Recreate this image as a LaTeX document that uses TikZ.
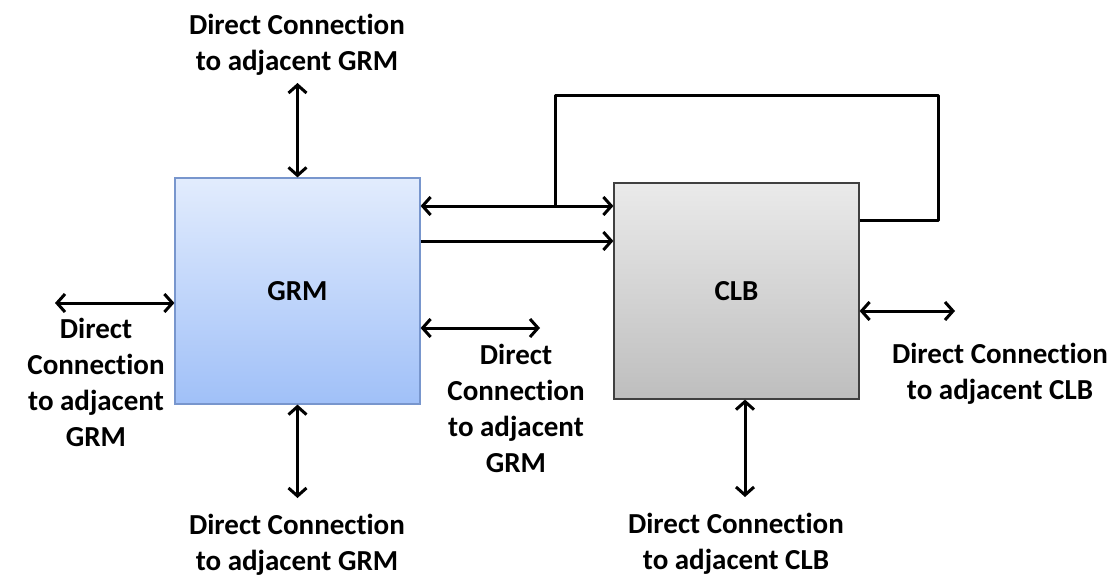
\documentclass[tikz,border=0pt]{standalone}
\usepackage{fontspec}
\setmainfont{Carlito}[Ligatures={NoCommon}]
\usetikzlibrary{arrows.meta}

\definecolor{grmtop}{RGB}{226,236,253}
\definecolor{grmbot}{RGB}{160,192,248}
\definecolor{grmline}{RGB}{120,150,205}
\definecolor{clbtop}{RGB}{234,234,234}
\definecolor{clbbot}{RGB}{190,190,190}
\definecolor{clbline}{RGB}{64,64,64}

\begin{document}
\begin{tikzpicture}[
    x=0.5pt, y=-0.5pt,
    block/.style={draw, minimum width=122.5pt, inner sep=0pt, line width=0.6pt, font=\fontsize{14.5}{18}\selectfont\bfseries},
    grm/.style={block, draw=grmline, top color=grmtop, bottom color=grmbot, minimum height=113pt},
    clb/.style={block, draw=clbline, top color=clbtop, bottom color=clbbot, minimum height=108pt},
    lbl/.style={align=center, font=\fontsize{14.5}{18}\selectfont\bfseries},
    arrow/.style={-{Straight Barb[length=4pt, width=9pt, line width=1.5pt]}, line width=1.5pt},
    dblarrow/.style={{Straight Barb[length=4pt, width=9pt, line width=1.5pt]}-{Straight Barb[length=4pt, width=9pt, line width=1.5pt]}, line width=1.5pt},
    link/.style={line width=1.5pt, line join=round}
  ]
  \useasboundingbox (0,0) rectangle (1115,578);

  % Main blocks
  \node[grm] (grm) at (297.5,291) {GRM};
  \node[clb] (clb) at (736.5,291) {CLB};

  % Free ends of the outer connections
  \coordinate (gtop) at (297.5,83);
  \coordinate (gbot) at (297.5,498);
  \coordinate (gleft) at (55,303);
  \coordinate (gright) at (540,328);
  \coordinate (cright) at (955,311);
  \coordinate (cbot) at (745,497);
  \coordinate (tap) at (555,206);
  \coordinate (loop) at (938,95);

  % Connections of the GRM
  \draw[dblarrow] (gtop) -- (grm.north);
  \draw[dblarrow] (grm.south) -- (gbot);
  \draw[dblarrow] (gleft) -- (gleft -| grm.west);
  \draw[dblarrow] (gright -| grm.east) -- (gright);

  % GRM to CLB
  \draw[dblarrow] (grm.east |- tap) -- (clb.west |- tap);
  \draw[arrow] (grm.east |- 0,241) -- (clb.west |- 0,241);

  % Feedback from the CLB
  \draw[link] (clb.east |- 0,220) -| (loop) -| (tap);

  % Connections of the CLB
  \draw[dblarrow] (cright -| clb.east) -- (cright);
  \draw[dblarrow] (cbot |- clb.south) -- (cbot);

  % Labels
  \node[lbl] (ltop) at (297,45) {Direct Connection\\to adjacent GRM};
  \node[lbl] (lbot) at (297,545) {Direct Connection\\to adjacent GRM};
  \node[lbl] (lleft) at (96,382) {Direct\\Connection\\to adjacent\\GRM};
  \node[lbl] (lright) at (516,408) {Direct\\Connection\\to adjacent\\GRM};
  \node[lbl] (lclbr) at (1000,374) {Direct Connection\\to adjacent CLB};
  \node[lbl] (lclbb) at (736,544) {Direct Connection\\to adjacent CLB};

\end{tikzpicture}
\end{document}
